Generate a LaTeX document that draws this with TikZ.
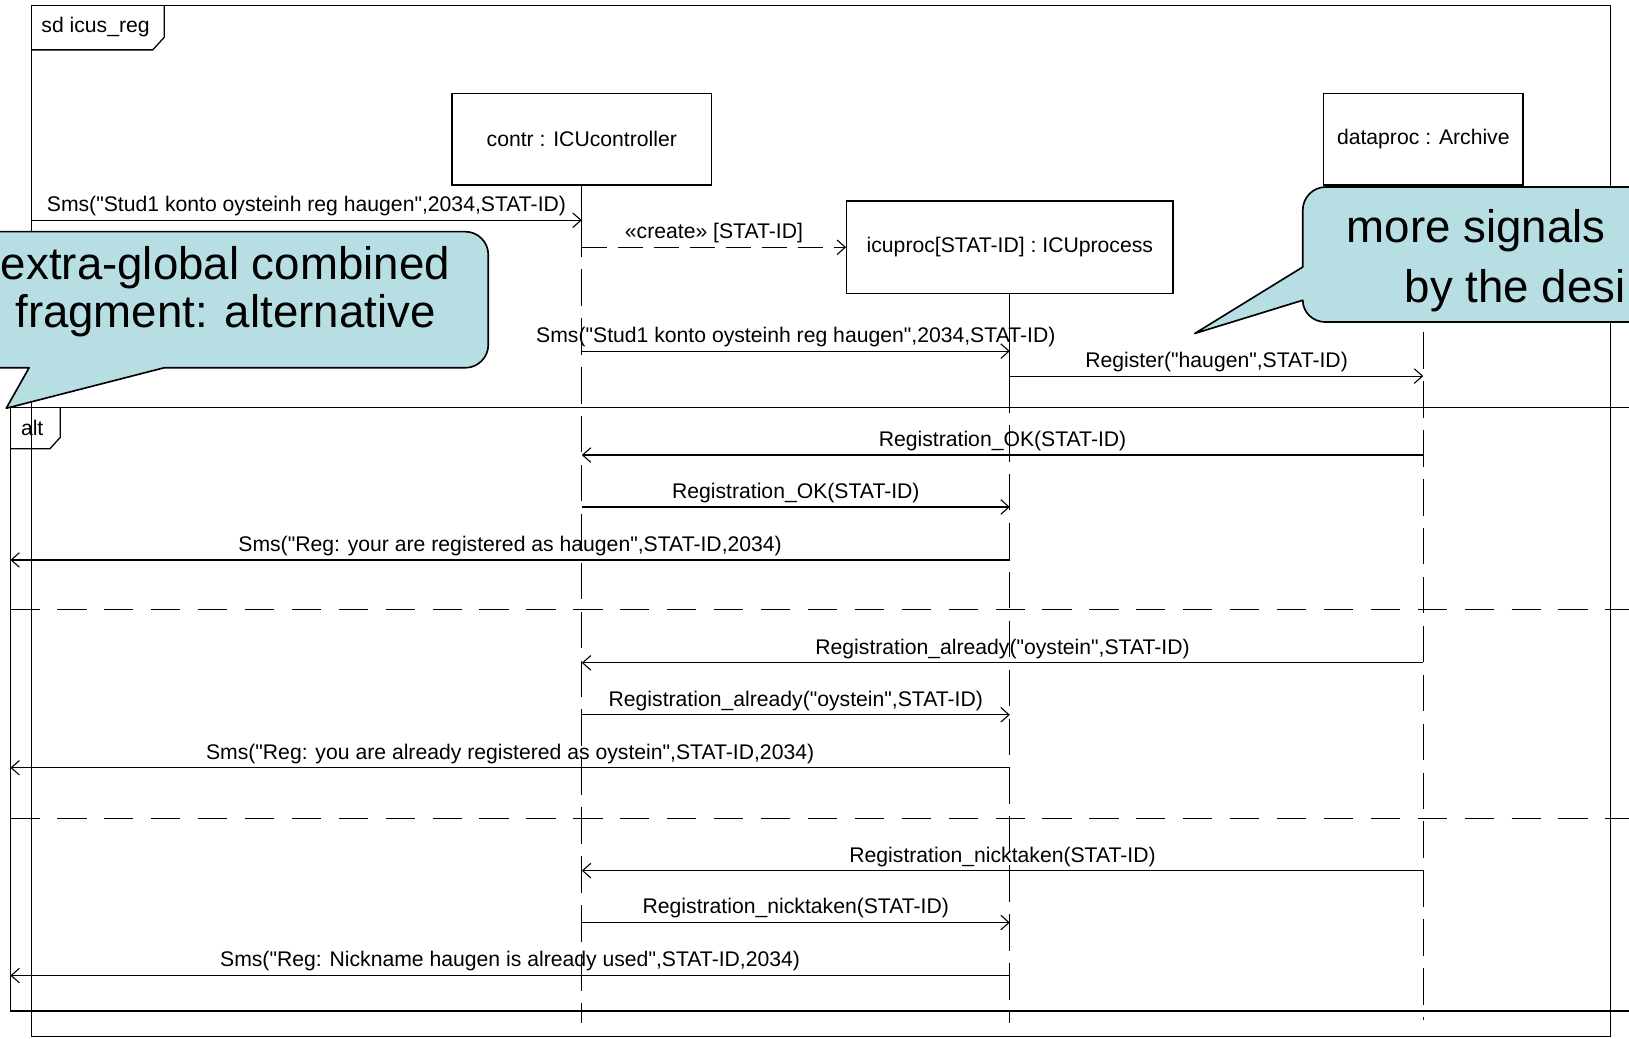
\documentclass[tikz,border=0pt]{standalone}
\usepackage{fontspec}
\setmainfont{Liberation Sans}
\newfontfamily\umlfont{Liberation Sans}[Ligatures=TeXOff]
\usetikzlibrary{arrows.meta}
\definecolor{notefill}{RGB}{183,222,226}

\begin{document}
\begin{tikzpicture}[x=0.02cm,y=-0.02cm,
  every node/.style={inner sep=0pt, font=\umlfont\fontsize{11.6}{13}\selectfont},
  frame/.style={line width=0.7pt},
  obj/.style={draw, line width=0.7pt, minimum height=1.76cm},
  life/.style={line width=0.6pt, dash pattern=on 20pt off 6.8pt},
  msg/.style={line width=0.6pt, -{Straight Barb[length=4.5pt,width=8pt]}},
  create/.style={msg, dash pattern=on 13.7pt off 6pt},
  sep/.style={line width=0.7pt, dash pattern=on 16pt off 9.7pt},
  lbl/.style={above=2pt},
  note/.style={draw, line width=0.9pt, fill=notefill, line join=round},
  notetext/.style={font=\rmfamily\fontsize{25}{26.5}\selectfont}]
\clip (0,0) rectangle (1568,1000);
\fill[white] (0,0) rectangle (1568,1000);

% sd frame
\draw[frame] (30,5) rectangle (1550,998);
\draw[frame] (30,48) -- (147,48) -- (158,36) -- (158,5);
\node (sd) at (92,26) {sd icus\_reg};

% lifeline heads
\node[obj, minimum width=5cm] (contr) at (560,134) {contr : ICUcontroller};
\node[obj, minimum width=6.28cm, minimum height=1.78cm] (icuproc) at (972,238) {icuproc[STAT-ID] : ICUprocess};
\node[obj, minimum width=3.84cm] (dataproc) at (1370,134) {dataproc : Archive};

% lifelines
\coordinate (contr end) at (contr.south |- 0,985);
\coordinate (icuproc end) at (icuproc.south |- 0,985);
\coordinate (dataproc end) at (dataproc.south |- 0,982);
\draw[frame] (contr.south) -- (contr.south |- 0,212);
\draw[life] (contr.south |- 0,212) -- (contr end);
\draw[frame] (icuproc.south) -- (icuproc.south |- 0,362);
\draw[life] (icuproc.south |- 0,362) -- (icuproc end);
\draw[life] (dataproc.south) -- (dataproc end);

% alt fragment
\draw[frame] (10,392) rectangle (1620,973);
\draw[frame] (10,432) -- (48,432) -- (58,421) -- (58,392);
\node (alt) at (31,412) {alt};
\draw[sep] (10,587) -- (1620,587);
\draw[sep] (10,788) -- (1620,788);

% messages before alt
\coordinate (gate) at (30,212);
\draw[msg] (gate) -- (contr.south |- gate) node[lbl, midway] (m1) {Sms("Stud1 konto oysteinh reg haugen",2034,STAT-ID)};
\draw[create] (contr.south |- icuproc.west) -- (icuproc.west) node[lbl, midway] (m2) {«create» [STAT-ID]};
\draw[msg] (contr.south |- 0,338) -- (icuproc.south |- 0,338) node[lbl, midway] (m3) {Sms("Stud1 konto oysteinh reg haugen",2034,STAT-ID)};
\draw[msg] (icuproc.south |- 0,362) -- (dataproc.south |- 0,362) node[lbl, midway] (m4) {Register("haugen",STAT-ID)};

% operand 1
\coordinate (out1) at (10,539);
\draw[msg] (dataproc.south |- 0,438) -- (contr.south |- 0,438) node[lbl, midway] (a1) {Registration\_OK(STAT-ID)};
\draw[msg] (contr.south |- 0,488) -- (icuproc.south |- 0,488) node[lbl, midway] (a2) {Registration\_OK(STAT-ID)};
\draw[msg] (icuproc.south |- out1) -- (out1) node[lbl, midway] (a3) {Sms("Reg: your are registered as haugen",STAT-ID,2034)};

% operand 2
\coordinate (out2) at (10,739);
\draw[msg] (dataproc.south |- 0,638) -- (contr.south |- 0,638) node[lbl, midway] (b1) {Registration\_already("oystein",STAT-ID)};
\draw[msg] (contr.south |- 0,688) -- (icuproc.south |- 0,688) node[lbl, midway] (b2) {Registration\_already("oystein",STAT-ID)};
\draw[msg] (icuproc.south |- out2) -- (out2) node[lbl, midway] (b3) {Sms("Reg: you are already registered as oystein",STAT-ID,2034)};

% operand 3
\coordinate (out3) at (10,939);
\draw[msg] (dataproc.south |- 0,838) -- (contr.south |- 0,838) node[lbl, midway] (c1) {Registration\_nicktaken(STAT-ID)};
\draw[msg] (contr.south |- 0,888) -- (icuproc.south |- 0,888) node[lbl, midway] (c2) {Registration\_nicktaken(STAT-ID)};
\draw[msg] (icuproc.south |- out3) -- (out3) node[lbl, midway] (c3) {Sms("Reg: Nickname haugen is already used",STAT-ID,2034)};

% callouts
\draw[note] (-60,223) -- (448,223) .. controls (460,223) and (470,233) .. (470,245)
  -- (470,332) .. controls (470,344) and (460,354) .. (448,354)
  -- (158,354) -- (6,393) -- (28,354) -- (-60,354) -- cycle;
\node[notetext, align=center] (noteA) at (217,281) {extra-global combined\\fragment: alternative};
\draw[note] (1620,180) -- (1276,180) .. controls (1264,180) and (1254,190) .. (1254,202)
  -- (1254,257) -- (1150,321) -- (1254,289)
  .. controls (1254,301) and (1264,310) .. (1276,310) -- (1620,310) -- cycle;
\node[notetext, anchor=west] (noteB1) at (1296,222) {more signals};
\node[notetext, anchor=west] (noteB2) at (1352,280) {by the desi};
\end{tikzpicture}
\end{document}
